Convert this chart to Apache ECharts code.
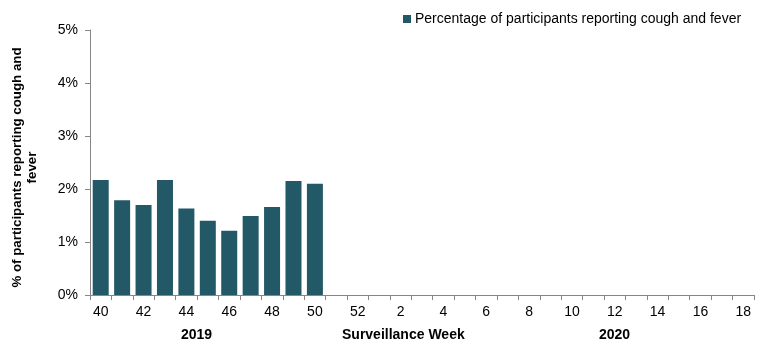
<!DOCTYPE html>
<html>
<head>
<meta charset="utf-8">
<script src="https://cdn.jsdelivr.net/npm/echarts@6/dist/echarts.min.js"></script>
<style>
  html, body { margin: 0; padding: 0; background: #fff; }
  #chart { width: 773px; height: 349px; }
</style>
</head>
<body>
<div id="chart"></div>
<script>
// Surveillance weeks: 40–52 of 2019, then 1–18 of 2020
const weeks = ['40','41','42','43','44','45','46','47','48','49','50','51','52',
  '1','2','3','4','5','6','7','8','9','10','11','12','13','14','15','16','17','18'];

// Percentage of participants reporting cough and fever (reported weeks only)
const coughFever = [2.17, 1.79, 1.70, 2.17, 1.63, 1.40, 1.21, 1.49, 1.66, 2.15, 2.10];

const seriesName = 'Percentage of participants reporting cough and fever';
const yTitle = '% of participants reporting cough and\nfever';
const yearLabels = ['2019', '2020'];
const xTitle = 'Surveillance Week';

const font = 'Liberation Sans, Arial, sans-serif';
const axisGrey = '#868686';
const barColor = '#235866';

const chart = echarts.init(document.getElementById('chart'), null, { renderer: 'canvas' });

chart.setOption({
  animation: false,
  textStyle: { fontFamily: font },
  legend: {
    data: [{ name: seriesName, icon: 'rect' }],
    top: 7,
    left: 398,
    itemWidth: 8,
    itemHeight: 8,
    itemGap: 4,
    textStyle: { fontFamily: font, fontSize: 14, color: '#000', padding: [0, 0, 0, -1] }
  },
  grid: { left: 90, right: 19, top: 30, bottom: 54, containLabel: false, outerBoundsMode: 'none' },
  xAxis: {
    type: 'category',
    data: weeks,
    boundaryGap: true,
    axisLine: { lineStyle: { color: axisGrey, width: 1 } },
    axisTick: { show: true, interval: 0, length: 5, alignWithLabel: false, lineStyle: { color: axisGrey } },
    axisLabel: { interval: 1, color: '#000', fontSize: 14, fontFamily: font, margin: 10 }
  },
  yAxis: {
    type: 'value',
    min: 0,
    max: 5,
    interval: 1,
    name: yTitle,
    nameLocation: 'middle',
    nameGap: 50,
    nameRotate: 90,
    nameTextStyle: {
      fontFamily: font, fontSize: 13.3, fontWeight: 'bold', color: '#000',
      lineHeight: 15, padding: [0, 10, 0, 0]
    },
    axisLine: { show: true, lineStyle: { color: axisGrey, width: 1 } },
    axisTick: { show: true, length: 5, lineStyle: { color: axisGrey } },
    splitLine: { show: false },
    axisLabel: { formatter: v => v + '%', color: '#000', fontSize: 14, fontFamily: font, margin: 12 }
  },
  series: [{
    name: seriesName,
    type: 'bar',
    data: coughFever,
    barWidth: 16,
    itemStyle: { color: barColor }
  }],
  graphic: [
    { type: 'text', left: 181, top: 328, style: { text: yearLabels[0], font: 'bold 14px ' + font, fill: '#000' } },
    { type: 'text', left: 342, top: 328, style: { text: xTitle, font: 'bold 14px ' + font, fill: '#000' } },
    { type: 'text', left: 599, top: 328, style: { text: yearLabels[1], font: 'bold 14px ' + font, fill: '#000' } }
  ]
});
</script>
</body>
</html>
